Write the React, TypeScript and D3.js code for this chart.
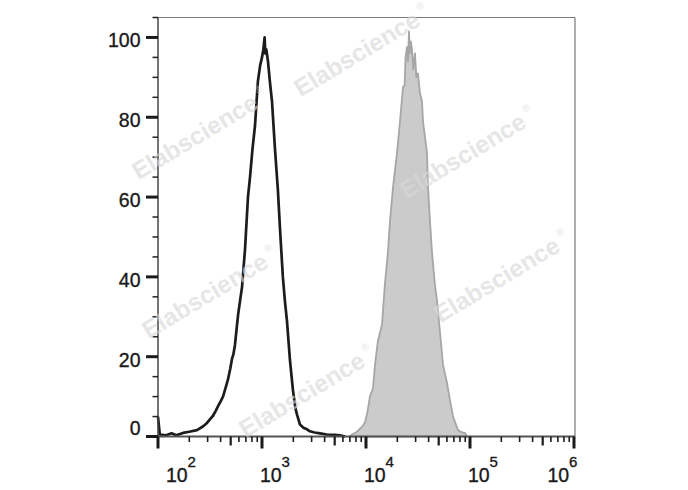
import React from "react";
import * as d3 from "d3";

// Black (unfilled) histogram: [intensity, % of max]
const controlSeries: [number, number][] = [
  [100, 5], [104, 0.5], [120, 0.3], [135, 0.8], [150, 0.3], [174, 0.9], [200, 1.2],
  [237, 1.6], [270, 2.5], [296, 3.4], [320, 4.5], [338, 5.2], [360, 6.5], [378, 7.6],
  [400, 8.8], [422, 10], [450, 12.5], [471, 14.3], [495, 17], [515, 19.5], [530, 20.5],
  [550, 23], [570, 27], [589, 30.5], [615, 34], [643, 37.5], [687, 47], [733, 60],
  [767, 65], [810, 72], [857, 78], [913, 89], [960, 93], [1000, 95], [1030, 97],
  [1060, 100], [1075, 96], [1100, 97], [1142, 94], [1190, 89], [1248, 84], [1333, 72],
  [1420, 62], [1490, 52], [1587, 40], [1660, 34], [1738, 29], [1859, 19], [1986, 11.5],
  [2100, 7], [2172, 5.5], [2318, 3], [2500, 2.2], [2710, 1.8], [2888, 1.3], [3200, 1.0],
  [3612, 0.8], [4200, 0.5], [5000, 0.4], [5625, 0.3], [6300, 0],
];

// Gray filled histogram: [intensity, % of max]
const stainedSeries: [number, number][] = [
  [7000, 0], [7330, 0.5], [8200, 1.2], [9120, 2.4], [9770, 3.5], [10300, 6], [10900, 10],
  [11660, 12], [12210, 18], [13030, 24], [14250, 28], [15230, 38.5], [16230, 46],
  [17000, 54], [18200, 62.5], [19860, 71], [21230, 79], [22700, 87.6], [23500, 88],
  [24000, 95], [24790, 97.6], [25300, 94], [25900, 101.5], [26400, 96], [27000, 99],
  [27680, 97], [28500, 92], [29580, 96], [30500, 90], [31620, 91], [33000, 86],
  [34540, 84], [35330, 79], [38620, 71], [39480, 62.5], [41230, 54], [43150, 46],
  [46000, 38], [48200, 34], [51540, 26], [55000, 18], [60100, 13.4], [64300, 9],
  [68700, 5], [76700, 1.6], [84000, 1.0], [89600, 0.9], [93600, 0],
];

const yMajorTicks = [0, 20, 40, 60, 80, 100];
const yMinorTicks = [5, 10, 15, 25, 30, 35, 45, 50, 55, 65, 70, 75, 85, 90, 95, 105];
const xDecades = [100, 1000, 10000, 100000, 1000000];
const xExponents = ["2", "3", "4", "5", "6"];
const watermarkCenters: [number, number][] = [
  [357, 54], [463, 156], [195, 137], [205, 296], [497, 280], [302, 395],
];

export default function App() {
  const W = 688, H = 490;
  const left = 158, right = 575, top = 17.5, bottom = 436.5;
  const x = d3.scaleLog().domain([100, 1e6]).range([left, 574]);
  const y = d3.scaleLinear().domain([0, 105]).range([bottom, top]);

  const line = d3.line<[number, number]>().x(d => x(d[0])).y(d => y(d[1]));
  const area = d3.area<[number, number]>().x(d => x(d[0])).y0(y(0)).y1(d => y(d[1]));

  const minorX: { v: number; k: number }[] = [];
  for (let i = 0; i < xDecades.length - 1; i++) {
    for (let k = 2; k <= 9; k++) minorX.push({ v: xDecades[i] * k, k });
  }

  const font = "'Liberation Sans', Arial, sans-serif";
  const baseW = 21, supW = 8.5;

  return (
    <svg width={W} height={H} style={{ position: "absolute", left: 0, top: 0, background: "#fff" }}>
      <rect width={W} height={H} fill="#fff" />
      {/* frame */}
      <line x1={left} x2={right} y1={top} y2={top} stroke="#7a7a7a" strokeWidth={1.2} />
      <line x1={right} x2={right} y1={top} y2={bottom} stroke="#7a7a7a" strokeWidth={1.2} />

      {/* stained histogram */}
      <path d={area(stainedSeries) || ""} fill="#cbcbcb" stroke="#a6a6a6" strokeWidth={1.8} strokeLinejoin="round" />
      {/* control histogram */}
      <path d={line(controlSeries) || ""} fill="none" stroke="#1c1c1c" strokeWidth={2.7} strokeLinejoin="round" />

      {/* axes */}
      <line x1={left} x2={left} y1={top} y2={bottom} stroke="#444" strokeWidth={1.5} />
      <line x1={left} x2={right} y1={bottom} y2={bottom} stroke="#555" strokeWidth={2} />

      {/* y ticks */}
      {yMinorTicks.map(v => (
        <line key={"ym" + v} x1={152.5} x2={left} y1={y(v)} y2={y(v)} stroke="#222" strokeWidth={1.5} />
      ))}
      {yMajorTicks.map(v => (
        <line key={"yM" + v} x1={146} x2={left} y1={y(v)} y2={y(v)} stroke="#1a1a1a" strokeWidth={3} />
      ))}
      {yMajorTicks.map(v => {
        const ty = Math.min(y(v) + 10, bottom - 1.5);
        return (
          <text key={"yl" + v} x={140.5} y={ty} textAnchor="end" fontFamily={font} fontSize={19.5}
            fill="#1a1a1a" stroke="#1a1a1a" strokeWidth={0.35}>
            {v}
          </text>
        );
      })}

      {/* x ticks */}
      {minorX.map(({ v, k }) => (
        <line key={"xm" + v} x1={x(v)} x2={x(v)} y1={bottom} y2={k === 5 ? 445.5 : 442}
          stroke="#1a1a1a" strokeWidth={k === 5 ? 2.2 : 1.6} />
      ))}
      {xDecades.map(v => (
        <line key={"xM" + v} x1={x(v)} x2={x(v)} y1={bottom} y2={448.5} stroke="#1a1a1a" strokeWidth={3} />
      ))}
      {xDecades.map((v, i) => {
        let sx = x(v) - 2;
        sx = Math.max(sx, 166);
        sx = Math.min(sx, 577 - baseW - supW);
        return (
          <g key={"xl" + v} fontFamily={font} fill="#1a1a1a" stroke="#1a1a1a" strokeWidth={0.35}>
            <text x={sx} y={482} fontSize={19.5}>10</text>
            <text x={sx + baseW + 0.5} y={467} fontSize={15}>{xExponents[i]}</text>
          </g>
        );
      })}

      {/* watermarks */}
      {watermarkCenters.map(([cx, cy], i) => (
        <g key={"wm" + i} transform={`translate(${cx},${cy}) rotate(-31)`} opacity={0.62}>
          <text x={0} y={8} textAnchor="middle" fontFamily={font} fontWeight="bold" fontSize={24.5} fill="#d8d8d8">
            Elabscience
          </text>
          <text x={75} y={-5} fontFamily={font} fontSize={10} fill="#d8d8d8">®</text>
        </g>
      ))}
    </svg>
  );
}
